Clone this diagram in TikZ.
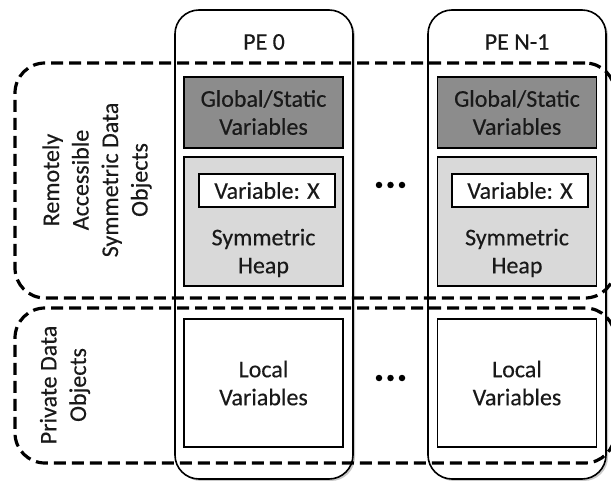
\documentclass[tikz,border=0pt]{standalone}
\usepackage{fontspec}
\setmainfont{Carlito}[FakeBold=0.3]
\usetikzlibrary{shadows}
\definecolor{darkbox}{RGB}{140,140,140}
\definecolor{lightbox}{RGB}{217,217,217}
\definecolor{ink}{RGB}{25,25,25}
\begin{document}
\begin{tikzpicture}[x=1pt,y=-1pt,
  every node/.style={inner sep=0pt,outer sep=0pt,text=ink,font=\fontsize{24}{28}\selectfont,align=center},
  colbox/.style={draw=black,line width=1.6pt,rounded corners=24pt,fill=white,minimum width=178pt,minimum height=469pt,
    drop shadow={shadow xshift=2pt,shadow yshift=-2pt,opacity=0.35,fill=black!60}},
  globbox/.style={draw=black,line width=1.4pt,fill=darkbox,minimum width=159pt,minimum height=71pt},
  heapbox/.style={draw=black,line width=1.4pt,fill=lightbox,minimum width=159pt,minimum height=129pt},
  varbox/.style={draw=black,line width=1.4pt,fill=white,minimum width=136pt,minimum height=33pt},
  localbox/.style={draw=black,line width=1.4pt,fill=white,minimum width=159pt,minimum height=128pt},
  regionbox/.style={draw=black,line width=3.2pt,dash pattern=on 12pt off 6pt,rounded corners=30pt},
  sidelabel/.style={rotate=90,font=\fontsize{24}{29.5}\selectfont},
  dotmark/.style={circle,fill=black,minimum size=6.5pt}
]
\clip (0,0) rectangle (611,481);
\fill[white] (0,0) rectangle (611,481);

% PE columns
\node[colbox] (col0) at (264,244.5) {};
\node[colbox] (colN) at (517,244.5) {};
\node (pe0) at (264,42) {PE 0};
\node (peN) at (517,42) {PE N-1};

% PE 0 contents
\node[globbox] (glob0) at (263.5,112.5) {Global/Static\\Variables};
\node[heapbox] (heap0) at (263.5,221.5) {};
\node[varbox] (var0) at (267,190.5) {Variable: X};
\node (heaptxt0) at (263.5,253) {Symmetric\\Heap};
\node[localbox] (loc0) at (263.5,383) {Local\\Variables};

% PE N-1 contents
\node[globbox] (globN) at (517,112.5) {Global/Static\\Variables};
\node[heapbox] (heapN) at (517,221.5) {};
\node[varbox] (varN) at (520,190.5) {Variable: X};
\node (heaptxtN) at (517,253) {Symmetric\\Heap};
\node[localbox] (locN) at (517,383) {Local\\Variables};

% dots
\foreach \i/\x in {a/379,b/390.5,c/402}{
  \node[dotmark] (dotup\i) at (\x,185) {};
  \node[dotmark] (dotlow\i) at (\x,378) {};
}

% dashed regions
\node[regionbox,minimum width=600pt,minimum height=235pt] (remote) at (315,180.5) {};
\node[regionbox,minimum width=600pt,minimum height=155pt] (private) at (315,385.5) {};

% side labels
\node[sidelabel] (remotelbl) at (97,180) {Remotely\\Accessible\\Symmetric Data\\Objects};
\node[sidelabel] (privatelbl) at (65,385) {Private Data\\Objects};
\end{tikzpicture}
\end{document}
